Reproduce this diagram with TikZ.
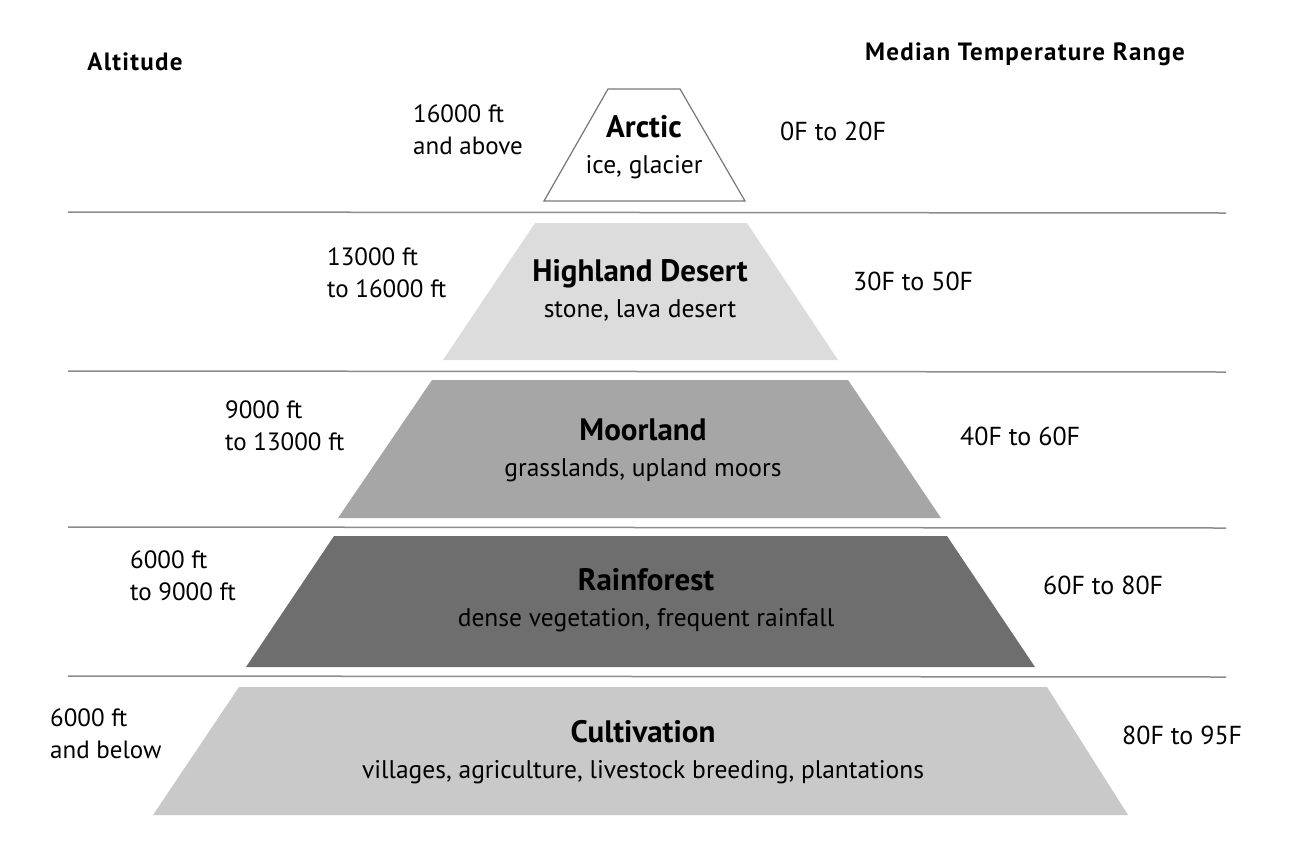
\documentclass[tikz,border=0pt]{standalone}
\usepackage{fontspec}
\setmainfont{PT Sans}
\usetikzlibrary{positioning}
\definecolor{edgegray}{RGB}{120,120,120}
\definecolor{rulegray}{RGB}{140,140,140}
\definecolor{arcticfill}{RGB}{255,255,255}
\definecolor{desertfill}{RGB}{220,220,220}
\definecolor{moorfill}{RGB}{166,166,166}
\definecolor{rainfill}{RGB}{110,110,110}
\definecolor{cultfill}{RGB}{201,201,201}
\tikzstyle{divider} = [draw=rulegray, line width=1.5pt]
\tikzstyle{zonetext} = [align=center, font=\fontsize{25.5}{36}\selectfont]
\tikzstyle{altitude} = [anchor=west, align=left, inner sep=0pt, font=\fontsize{25}{32}\selectfont]
\tikzstyle{temp} = [anchor=west, inner sep=0pt, font=\fontsize{26}{30}\selectfont]
\tikzstyle{header} = [font=\bfseries\fontsize{25}{28}\selectfont\addfontfeatures{LetterSpace=5}]
\newcommand{\zonetitle}[1]{{\bfseries\fontsize{31}{34}\selectfont #1}}

\begin{document}
\begin{tikzpicture}[x=1pt, y=-1pt]
\useasboundingbox (0,0) rectangle (1300,860);

% Headers
\node[header] (althead) at (135,62) {Altitude};
\node[header] (temphead) at (1025,54) {Median Temperature Range};

% Zones
\draw[edgegray, line width=1.2pt, fill=arcticfill] (608,89) -- (680,89) -- (745,201) -- (544,201) -- cycle;
\fill[desertfill] (535,223) -- (747,223) -- (838,360) -- (443,360) -- cycle;
\fill[moorfill] (432,380) -- (848,380) -- (941,518) -- (338,518) -- cycle;
\fill[rainfill] (334,536) -- (947,536) -- (1035,667) -- (246,667) -- cycle;
\fill[cultfill] (239,687) -- (1047,687) -- (1128,815) -- (153,815) -- cycle;

% Dividers
\coordinate (d1l) at (68,212); \coordinate (d1r) at (1226,213);
\coordinate (d2l) at (68,371); \coordinate (d2r) at (1226,372);
\coordinate (d3l) at (68,527); \coordinate (d3r) at (1226,528);
\coordinate (d4l) at (68,676); \coordinate (d4r) at (1226,677);
\draw[divider] (d1l) -- (d1r);
\draw[divider] (d2l) -- (d2r);
\draw[divider] (d3l) -- (d3r);
\draw[divider] (d4l) -- (d4r);

% Zone names
\node[zonetext] (arctic) at (644,147) {\zonetitle{Arctic}\\ice, glacier};
\node[zonetext] (desert) at (640,290) {\zonetitle{Highland Desert}\\stone, lava desert};
\node[zonetext] (moor) at (643,450) {\zonetitle{Moorland}\\grasslands, upland moors};
\node[zonetext] (rain) at (646,600) {\zonetitle{Rainforest}\\dense vegetation, frequent rainfall};
\node[zonetext] (cult) at (643,752) {\zonetitle{Cultivation}\\villages, agriculture, livestock breeding, plantations};

% Altitudes
\node[altitude] (alt1) at (413,130) {16000 ft\\and above};
\node[altitude] (alt2) at (327,273) {13000 ft\\to 16000 ft};
\node[altitude] (alt3) at (225,426) {9000 ft\\to 13000 ft};
\node[altitude] (alt4) at (130,576) {6000 ft\\to 9000 ft};
\node[altitude] (alt5) at (50,734) {6000 ft\\and below};

% Temperatures
\node[temp] (temp1) at (780,131) {0F to 20F};
\node[temp] (temp2) at (853,281) {30F to 50F};
\node[temp] (temp3) at (960,436) {40F to 60F};
\node[temp] (temp4) at (1043,585) {60F to 80F};
\node[temp] (temp5) at (1122,735) {80F to 95F};
\end{tikzpicture}
\end{document}
